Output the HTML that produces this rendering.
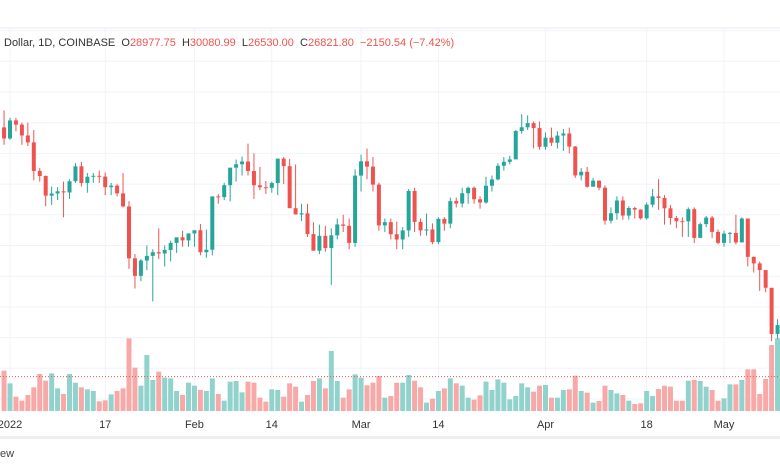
<!DOCTYPE html>
<html><head><meta charset="utf-8">
<style>
html,body{margin:0;padding:0;background:#fff;}
body{width:780px;height:470px;overflow:hidden;position:relative;font-family:"Liberation Sans",sans-serif;}
svg{position:absolute;left:0;top:0;}
</style></head>
<body>
<svg id="chart" width="780" height="470"></svg>
<script>
const dayIndex=[-1,0,1,2,3,4,5,6,7,8,9,10,11,12,13,14,15,16,17,18,19,20,21,22,23,24,25,26,27,28,29,30,31,32,33,34,35,36,37,38,39,40,41,42,43,44,45,46,47,48,49,50,51,52,53,54,55,56,57,58,59,60,61,62,63,64,65,66,67,68,69,70,71,72,73,74,75,76,77,78,79,80,81,82,83,84,85,86,87,88,89,90,91,92,93,94,95,96,97,98,99,100,101,102,103,104,105,106,107,108,109,110,111,112,113,114,115,116,117,118,119,120,121,122,123,124,125,126,127,128,129,130];
const opens=[47120,46216,47686,47345,46458,45897,43569,43160,41558,41734,41912,41821,42735,43949,42591,43099,43177,43113,42250,42375,41744,40680,36457,35030,36276,36654,36954,36852,37138,37712,38166,37917,38483,38743,36952,37154,41500,41441,42412,43840,44118,44338,43565,42407,42244,42197,42586,44575,43961,40538,40030,40122,38431,37075,38286,37296,38332,39214,39105,37709,43193,44354,43925,42458,39137,39400,38420,37988,38730,41941,39422,38730,38807,37777,39671,39280,41114,40917,41757,42201,41262,41002,42364,42882,43991,44313,44511,46827,47128,47465,47062,45538,46281,45868,46453,46622,45555,43207,43503,42287,42782,42207,39521,40127,41166,39936,40553,40424,39716,40826,41502,41374,40527,39741,39478,39469,40458,38118,39241,39773,38609,37714,38469,38529,37750,39698,36575,36040,35501,34059,30296,31022];
const closes=[46216,47686,47345,46458,45897,43569,43160,41558,41734,41912,41821,42735,43949,42591,43099,43177,43113,42250,42375,41744,40680,36457,35030,36276,36654,36954,36852,37138,37712,38166,37917,38483,38743,36952,37154,41500,41441,42412,43840,44118,44338,43565,42407,42244,42197,42586,44575,43961,40538,40030,40122,38431,37075,38286,37296,38332,39214,39105,37709,43193,44354,43925,42458,39137,39400,38420,37988,38730,41941,39422,38730,38807,37777,39671,39280,41114,40917,41757,42201,41262,41002,42364,42882,43991,44313,44511,46827,47128,47465,47062,45538,46281,45868,46453,46622,45555,43207,43503,42287,42782,42207,39521,40127,41166,39936,40553,40424,39716,40826,41502,41374,40527,39741,39478,39469,40458,38118,39241,39773,38609,37714,38469,38529,37750,39698,36575,36040,35501,34059,30296,31022,28936];
const highs=[48500,47900,47900,47500,47500,46900,43800,43200,42300,42250,42700,42900,44200,44300,43400,43400,43600,43450,42600,42500,43400,41100,36800,36400,37500,37200,38900,37500,37900,38000,38700,38350,38700,39250,38800,37400,41700,42600,42650,44500,44750,45800,45000,43900,42750,42700,42600,44700,44550,44100,40900,40900,39400,39200,39100,38900,39700,40000,39700,43700,44900,45400,44700,42600,39700,39700,39450,39000,42100,42200,39700,40100,39300,39800,39800,41400,41400,42200,42300,42300,41500,43100,43200,44200,44700,44800,46900,48200,48100,47600,47600,46700,47100,46800,47000,47100,45600,43800,43900,43000,42800,42400,40600,41500,41500,40700,40650,40450,41000,42100,42900,41600,40800,39900,39800,40600,40600,39350,39900,39900,38800,38700,38600,40000,39800,36700,36600,36200,34200,32600,31500];
const lows=[45700,46100,46800,45700,45600,42800,42700,40700,40800,41200,39800,41300,42600,42300,41800,42600,42600,41600,41600,41500,40600,35600,34000,34600,35500,32950,36400,35800,36200,36900,37400,37400,37400,36700,36500,36700,40900,41200,41100,42700,43200,43200,41300,42000,41700,41800,41600,42500,43400,40100,39500,38200,38000,36800,37000,34300,38000,38600,37200,37400,41900,42900,41900,38700,38600,38000,37200,37200,38200,38600,38300,38300,37600,37600,38700,38900,40600,40600,40900,40900,40500,40900,41900,42800,43600,44100,46600,46600,46900,45400,45300,45300,45600,45400,45200,45000,43000,42800,42200,42300,42000,39200,39300,39600,39600,39600,39700,39600,39600,40600,40400,39200,39200,38900,38200,38200,37700,38200,39000,38100,37600,37400,37700,37600,38000,35800,35300,33800,33700,29700,29900];
const volumes=[121,83,43,31,48,71,111,91,113,68,51,111,85,71,65,60,29,32,50,60,68,218,130,76,168,93,118,100,98,60,48,85,76,63,60,98,51,31,88,90,56,88,85,40,28,65,63,43,83,73,28,48,90,98,68,180,90,40,65,110,100,77,85,105,40,45,85,85,108,91,71,25,37,60,68,98,83,76,40,34,47,88,63,95,85,35,45,83,71,58,76,78,40,40,63,65,106,60,55,25,30,76,63,53,48,31,21,23,60,45,66,76,73,31,31,91,93,90,73,63,31,38,80,80,93,125,125,51,96,198,218];
const dateTicks=["2022","17","Feb","14","Mar","14","Apr","18","May"];
const dateTickDays=[0,16,31,44,59,72,90,107,120];
const priceGrid=[55000,52500,50000,47500,45000,42500,40000,37500,35000,32500,30000,27500,25000];
const lastPrice=[26821.80];

const svg=document.getElementById('chart');
const NS='http://www.w3.org/2000/svg';
function xDay(d){return 10+5.95*d;}
function yPrice(p){return 92+(50000-p)*0.01228;}
function yVol(v){return 411-v/3;}
function mk(tag,attrs){const e=document.createElementNS(NS,tag);for(const k in attrs)e.setAttribute(k,attrs[k]);svg.appendChild(e);return e;}

// panel border lines
let b=mk('line',{x1:0,x2:780,y1:28,y2:28,stroke:'#e6e8ee','stroke-width':1});


// grids
priceGrid.forEach(p=>{
  const l=mk('line',{x1:0,x2:780,y1:yPrice(p),y2:yPrice(p),stroke:'#f0f3fa','stroke-width':1});
  
  
});
dateTickDays.forEach(d=>{
  const l=mk('line',{x1:xDay(d),x2:xDay(d),y1:28,y2:412,stroke:'#f0f3fa','stroke-width':1});
  
  
});
// volumes
dayIndex.forEach((d,i)=>{
  if(volumes[i]===undefined)return;
  const up=closes[i]>=opens[i];
  const y=yVol(volumes[i]);
  const r=mk('rect',{x:xDay(d)-2.5,y:y,width:5,height:411-y,fill:up?'#92d2cc':'#f7a9a7'});
  
  
});
// last price line
const lp=mk('line',{x1:0,x2:780,y1:yPrice(lastPrice[0]),y2:yPrice(lastPrice[0]),stroke:'#ef5350','stroke-width':1,'stroke-dasharray':'1 2'});


// candles
dayIndex.forEach((d,i)=>{
  if(closes[i]===undefined)return;
  const up=closes[i]>=opens[i];
  const col=up?'#26a69a':'#ef5350';
  const x=xDay(d);
  const w=mk('line',{x1:x,x2:x,y1:yPrice(highs[i]),y2:yPrice(lows[i]),stroke:col,'stroke-width':1});
  
  
  const yt=yPrice(Math.max(opens[i],closes[i])),yb=yPrice(Math.min(opens[i],closes[i]));
  const r=mk('rect',{x:x-2,y:yt,width:4,height:Math.max(1,yb-yt),fill:col});
  
  
});
// date axis labels
dateTicks.forEach((t,i)=>{
  const tx=mk('text',{x:xDay(dateTickDays[i]),y:428,'text-anchor':'middle','font-size':11,fill:'#333','font-family':'Liberation Sans, sans-serif'});
  tx.textContent=t;
  
  
});
// bottom band
const band=mk('rect',{x:0,y:436,width:780,height:3,fill:'#eceef2'});


const ew=mk('text',{x:0,y:457,'font-size':11,fill:'#444','font-family':'Liberation Sans, sans-serif'});
ew.textContent='ew';


// header legend
const hdr=mk('text',{x:4,y:46,'font-size':11,'font-family':'Liberation Sans, sans-serif',fill:'#333'});


const parts=[['Dollar, 1D, COINBASE  ','#333'],['O','#333'],['28977.75  ','#ef5350'],['H','#333'],['30080.99  ','#ef5350'],['L','#333'],['26530.00  ','#ef5350'],['C','#333'],['26821.80  ','#ef5350'],['\u22122150.54 (\u22127.42%)','#ef5350']];
parts.forEach(p=>{const s=document.createElementNS(NS,'tspan');s.setAttribute('fill',p[1]);s.setAttribute('xml:space','preserve');s.textContent=p[0];hdr.appendChild(s);});
hdr.setAttribute('style','white-space:pre');
</script>
</body></html>
